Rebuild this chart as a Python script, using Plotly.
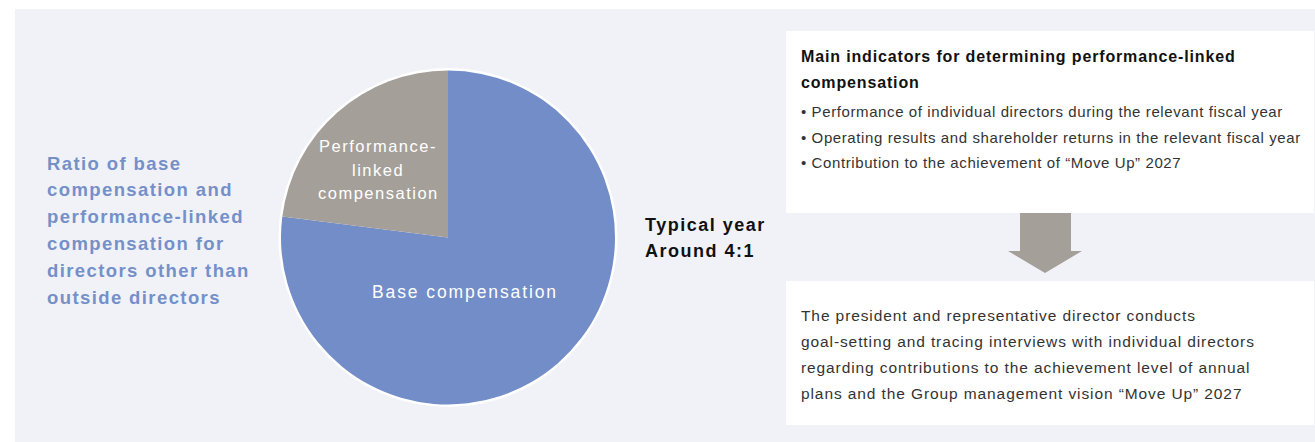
import plotly.graph_objects as go

W, H = 1315, 442

categories = ["Base compensation", "Performance-linked compensation"]
values = [77, 23]
colors = ["#728dc8", "#a59f9a"]

slice_labels = ["Base compensation", ["Performance-", "linked", "compensation"]]

title_lines = ["Ratio of base", "compensation and", "performance-linked",
               "compensation for", "directors other than", "outside directors"]
ratio_lines = ["Typical year", "Around 4:1"]
box1_title = ["Main indicators for determining performance-linked", "compensation"]
box1_bullets = ["• Performance of individual directors during the relevant fiscal year",
                "• Operating results and shareholder returns in the relevant fiscal year",
                "• Contribution to the achievement of “Move Up” 2027"]
box2_lines = ["The president and representative director conducts",
              "goal-setting and tracing interviews with individual directors",
              "regarding contributions to the achievement level of annual",
              "plans and the Group management vision “Move Up” 2027"]


def px(x):
    return x / W


def py(y):
    return 1 - y / H


FONT = "Liberation Sans, Arial, Helvetica, sans-serif"

cx, cy, r = 448, 237.5, 167

fig = go.Figure()
fig.add_trace(go.Pie(
    labels=categories, values=values, sort=False, direction="clockwise",
    rotation=0, marker=dict(colors=colors, line=dict(width=0)),
    textinfo="none", hoverinfo="label+percent", showlegend=False,
    domain=dict(x=[px(cx - r), px(cx + r)], y=[py(cy + r), py(cy - r)]),
))

shapes = [
    dict(type="rect", xref="paper", yref="paper", x0=px(15), x1=px(1315), y0=py(442), y1=py(9),
         fillcolor="#f1f2f8", line=dict(width=0), layer="below"),
    dict(type="circle", xref="paper", yref="paper", x0=px(cx - r - 2.5), x1=px(cx + r + 2.5),
         y0=py(cy + r + 2.5), y1=py(cy - r - 2.5), fillcolor="white", line=dict(width=0), layer="below"),
    dict(type="rect", xref="paper", yref="paper", x0=px(786), x1=px(1314), y0=py(213), y1=py(31),
         fillcolor="white", line=dict(width=0), layer="below"),
    dict(type="rect", xref="paper", yref="paper", x0=px(786), x1=px(1314), y0=py(425), y1=py(281),
         fillcolor="white", line=dict(width=0), layer="below"),
    dict(type="path", xref="paper", yref="paper",
         path=(f"M {px(1020)} {py(213)} L {px(1071)} {py(213)} L {px(1071)} {py(251)} "
               f"L {px(1082)} {py(251)} L {px(1045)} {py(273)} L {px(1008)} {py(251)} "
               f"L {px(1020)} {py(251)} Z"),
         fillcolor="#a59f9a", line=dict(width=0), layer="below"),
]

annotations = []


def add_text(text, x, y, size, color, bold=False, align="left", spacing=None):
    t = f"<b>{text}</b>" if bold else text
    if spacing:
        t = f'<span style="letter-spacing:{spacing}px">{t}</span>'
    annotations.append(dict(
        text=t, x=px(x), y=py(y), xref="paper", yref="paper",
        xanchor="left" if align == "left" else "center", yanchor="middle",
        showarrow=False, borderpad=0, borderwidth=0,
        font=dict(family=FONT, size=size, color=color),
    ))


for i, line in enumerate(title_lines):
    add_text(line, 47, 163 + i * 26.9, 18.5, "#7590c9", bold=True, spacing=1.4)

for i, line in enumerate(ratio_lines):
    add_text(line, 645, 225 + i * 25.5, 18, "#111111", bold=True, spacing=1.5)

add_text(slice_labels[0], 465, 292, 17.5, "white", align="center", spacing=1.9)
for i, line in enumerate(slice_labels[1]):
    add_text(line, 378, 146 + i * 23.7, 16.5, "white", align="center", spacing=1.5)

for i, line in enumerate(box1_title):
    add_text(line, 801, 56 + i * 26.5, 16, "#111111", bold=True, spacing=0.85)
for i, line in enumerate(box1_bullets):
    add_text(line, 801, 111.5 + i * 25.5, 15, "#333333", spacing=0.6)
for i, line in enumerate(box2_lines):
    add_text(line, 801, 315 + i * 26.3, 15.5, "#333333", spacing=0.9)

fig.update_layout(
    width=W, height=H, margin=dict(l=0, r=0, t=0, b=0),
    paper_bgcolor="white", plot_bgcolor="white",
    shapes=shapes, annotations=annotations, showlegend=False,
)

fig.write_html("out.html")
